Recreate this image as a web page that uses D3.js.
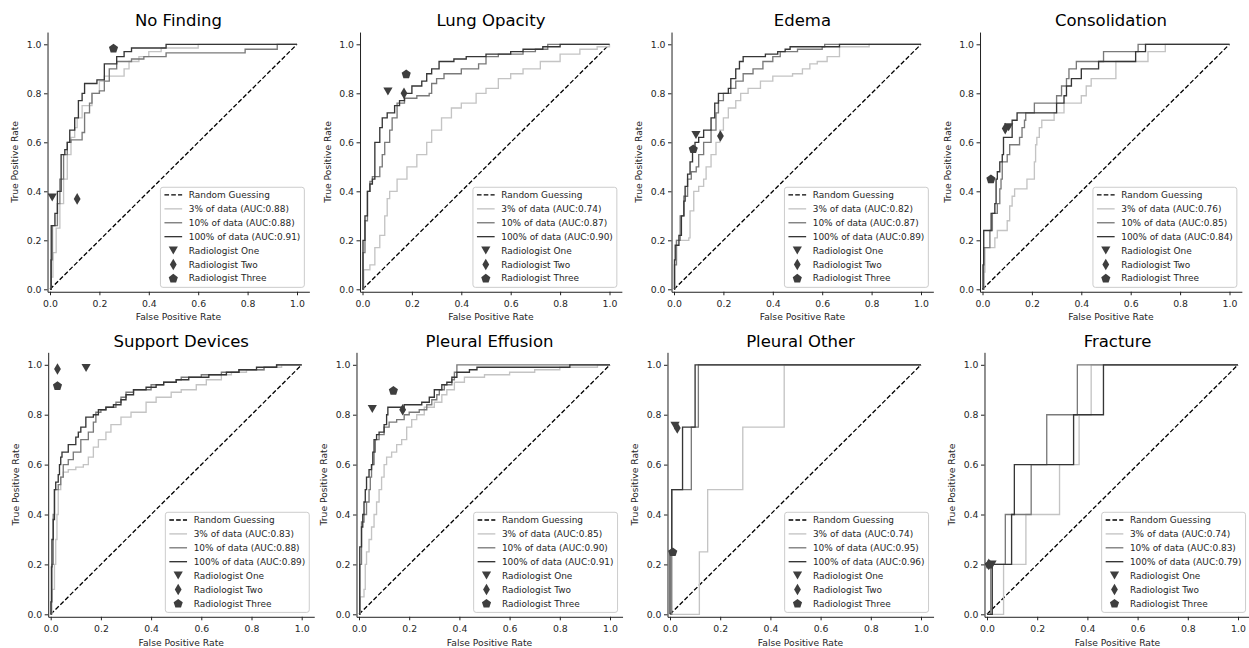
<!DOCTYPE html>
<html><head><meta charset="utf-8">
<script src="https://cdn.jsdelivr.net/npm/d3@7"></script>
<style>
html,body{margin:0;padding:0;background:#fff;}
svg{display:block;font-family:"DejaVu Sans",sans-serif;}
</style></head>
<body>
<svg id="chart" width="1249" height="648"></svg>
<script>
// ---------------- DATA ----------------
const categories = ["No Finding","Lung Opacity","Edema","Consolidation","Support Devices","Pleural Effusion","Pleural Other","Fracture"];
const auc3   = [0.88,0.74,0.82,0.76,0.83,0.85,0.74,0.74];
const auc10  = [0.88,0.87,0.87,0.85,0.88,0.90,0.95,0.83];
const auc100 = [0.91,0.90,0.89,0.84,0.89,0.91,0.96,0.79];
const tickValues = [0,0.2,0.4,0.6,0.8,1.0];
const legendLabels = ["Random Guessing","3% of data","10% of data","100% of data","Radiologist One","Radiologist Two","Radiologist Three"];

// radiologist operating points [FPR, TPR] per category
const radiologistOne   = [[0.009,0.375],[0.103,0.807],[0.089,0.63],[0.106,0.661],[0.141,0.987],[0.053,0.823],[0.02,0.756],[0.02,0.2]];
const radiologistTwo   = [[0.11,0.369],[0.168,0.8],[0.188,0.626],[0.092,0.656],[0.027,0.983],[0.174,0.82],[0.029,0.747],[0.007,0.2]];
const radiologistThree = [[0.257,0.984],[0.177,0.879],[0.078,0.573],[0.034,0.45],[0.027,0.916],[0.137,0.897],[0.011,0.25],[0.01,0.2]];

// ROC step points [FPR, TPR]
const noFinding3   = [[0,0],[0.005,0.05],[0.012,0.15],[0.025,0.25],[0.04,0.35],[0.055,0.45],[0.07,0.55],[0.085,0.62],[0.1,0.66],[0.11,0.7],[0.13,0.75],[0.17,0.8],[0.2,0.85],[0.22,0.87],[0.3,0.9],[0.32,0.93],[0.36,0.95],[0.4,0.97],[0.45,0.985],[0.6,1.0],[1,1]];
const noFinding10  = [[0,0],[0.003,0.12],[0.01,0.26],[0.03,0.35],[0.04,0.45],[0.055,0.55],[0.07,0.6],[0.085,0.61],[0.13,0.64],[0.14,0.72],[0.16,0.76],[0.17,0.8],[0.2,0.81],[0.22,0.85],[0.24,0.9],[0.27,0.93],[0.33,0.94],[0.38,0.95],[0.47,0.965],[0.79,0.98],[0.92,1.0],[1,1]];
const noFinding100 = [[0,0],[0.005,0.26],[0.02,0.31],[0.03,0.4],[0.045,0.55],[0.06,0.57],[0.07,0.6],[0.08,0.65],[0.1,0.7],[0.115,0.77],[0.13,0.8],[0.14,0.84],[0.19,0.855],[0.22,0.92],[0.27,0.95],[0.3,0.97],[0.33,0.985],[0.47,1.0],[1,1]];

const lungOpacity3   = [[0,0],[0.005,0.08],[0.03,0.1],[0.05,0.17],[0.07,0.22],[0.09,0.3],[0.1,0.37],[0.11,0.4],[0.14,0.45],[0.18,0.5],[0.22,0.55],[0.26,0.6],[0.28,0.65],[0.32,0.7],[0.36,0.74],[0.4,0.76],[0.46,0.8],[0.5,0.82],[0.55,0.86],[0.6,0.88],[0.65,0.9],[0.72,0.93],[0.8,0.96],[0.88,0.98],[0.95,0.99],[1,1]];
const lungOpacity10  = [[0,0],[0.002,0.15],[0.01,0.28],[0.02,0.4],[0.03,0.44],[0.04,0.46],[0.07,0.5],[0.08,0.55],[0.09,0.6],[0.11,0.65],[0.12,0.7],[0.14,0.76],[0.17,0.78],[0.22,0.79],[0.27,0.8],[0.28,0.84],[0.3,0.86],[0.33,0.88],[0.4,0.9],[0.47,0.92],[0.5,0.95],[0.55,0.96],[0.65,0.97],[0.7,0.98],[0.75,1.0],[1,1]];
const lungOpacity100 = [[0,0],[0.002,0.2],[0.01,0.3],[0.02,0.4],[0.03,0.43],[0.04,0.45],[0.05,0.6],[0.07,0.66],[0.08,0.7],[0.1,0.72],[0.13,0.75],[0.15,0.77],[0.17,0.8],[0.2,0.83],[0.24,0.85],[0.26,0.88],[0.28,0.9],[0.31,0.93],[0.37,0.94],[0.42,0.95],[0.5,0.96],[0.6,0.97],[0.65,0.98],[0.73,0.99],[0.8,1.0],[1,1]];

const edema3   = [[0,0],[0.003,0.12],[0.01,0.2],[0.06,0.21],[0.065,0.32],[0.08,0.4],[0.1,0.42],[0.12,0.45],[0.13,0.5],[0.15,0.55],[0.17,0.6],[0.185,0.65],[0.2,0.7],[0.22,0.74],[0.25,0.77],[0.27,0.8],[0.3,0.82],[0.35,0.85],[0.4,0.87],[0.48,0.88],[0.52,0.9],[0.55,0.92],[0.58,0.93],[0.62,0.95],[0.67,0.96],[0.67,0.99],[0.79,1.0],[1,1]];
const edema10  = [[0,0],[0.002,0.1],[0.01,0.2],[0.025,0.3],[0.04,0.38],[0.055,0.45],[0.07,0.48],[0.09,0.5],[0.1,0.55],[0.12,0.6],[0.15,0.65],[0.17,0.72],[0.18,0.77],[0.2,0.8],[0.23,0.82],[0.25,0.85],[0.28,0.88],[0.32,0.9],[0.36,0.93],[0.4,0.95],[0.43,0.97],[0.5,0.98],[0.6,0.99],[0.61,1.0],[1,1]];
const edema100 = [[0,0],[0.002,0.12],[0.005,0.18],[0.02,0.22],[0.03,0.3],[0.04,0.36],[0.045,0.42],[0.055,0.47],[0.065,0.52],[0.075,0.57],[0.085,0.6],[0.1,0.62],[0.12,0.65],[0.15,0.7],[0.165,0.76],[0.18,0.8],[0.22,0.82],[0.23,0.86],[0.25,0.9],[0.265,0.93],[0.28,0.95],[0.37,0.96],[0.42,0.97],[0.45,0.98],[0.47,0.99],[0.67,1.0],[1,1]];

const consolidation3   = [[0,0],[0.005,0.07],[0.01,0.17],[0.05,0.21],[0.06,0.24],[0.1,0.28],[0.11,0.34],[0.12,0.38],[0.13,0.41],[0.18,0.45],[0.21,0.52],[0.215,0.59],[0.22,0.62],[0.23,0.66],[0.24,0.69],[0.29,0.72],[0.33,0.76],[0.4,0.79],[0.42,0.83],[0.44,0.86],[0.54,0.93],[0.67,0.97],[0.74,1.0],[1,1]];
const consolidation10  = [[0,0],[0.005,0.17],[0.03,0.24],[0.04,0.31],[0.06,0.35],[0.07,0.41],[0.075,0.45],[0.08,0.52],[0.1,0.55],[0.11,0.59],[0.15,0.62],[0.16,0.66],[0.17,0.69],[0.175,0.72],[0.21,0.76],[0.3,0.79],[0.32,0.83],[0.34,0.86],[0.35,0.9],[0.38,0.93],[0.49,0.97],[0.63,1.0],[1,1]];
const consolidation100 = [[0,0],[0.002,0.1],[0.005,0.24],[0.035,0.31],[0.05,0.35],[0.055,0.45],[0.06,0.48],[0.07,0.52],[0.08,0.55],[0.085,0.62],[0.12,0.69],[0.14,0.72],[0.3,0.76],[0.33,0.79],[0.34,0.83],[0.36,0.86],[0.4,0.9],[0.47,0.93],[0.62,0.97],[0.66,1.0],[1,1]];

const supportDevices3   = [[0,0],[0.005,0.1],[0.015,0.2],[0.02,0.3],[0.025,0.4],[0.03,0.5],[0.04,0.55],[0.05,0.57],[0.07,0.58],[0.1,0.59],[0.13,0.6],[0.15,0.63],[0.17,0.67],[0.19,0.7],[0.22,0.73],[0.24,0.76],[0.28,0.79],[0.32,0.81],[0.38,0.85],[0.42,0.87],[0.48,0.89],[0.52,0.9],[0.58,0.92],[0.62,0.94],[0.68,0.96],[0.72,0.97],[0.78,0.98],[0.85,0.99],[0.92,1.0],[1,1]];
const supportDevices10  = [[0,0],[0.002,0.05],[0.005,0.2],[0.01,0.4],[0.015,0.5],[0.03,0.52],[0.04,0.55],[0.05,0.6],[0.07,0.62],[0.09,0.65],[0.12,0.7],[0.15,0.73],[0.17,0.77],[0.18,0.81],[0.2,0.82],[0.22,0.83],[0.26,0.85],[0.28,0.87],[0.3,0.89],[0.33,0.9],[0.4,0.92],[0.45,0.93],[0.5,0.94],[0.52,0.95],[0.6,0.96],[0.68,0.97],[0.75,0.98],[0.85,0.99],[0.9,1.0],[1,1]];
const supportDevices100 = [[0,0],[0.001,0.05],[0.003,0.19],[0.005,0.3],[0.01,0.38],[0.015,0.5],[0.02,0.53],[0.03,0.56],[0.035,0.6],[0.04,0.63],[0.045,0.65],[0.07,0.68],[0.1,0.71],[0.11,0.73],[0.12,0.75],[0.14,0.79],[0.17,0.8],[0.19,0.82],[0.22,0.83],[0.25,0.84],[0.28,0.86],[0.3,0.88],[0.33,0.9],[0.38,0.91],[0.42,0.92],[0.45,0.93],[0.5,0.94],[0.55,0.95],[0.63,0.96],[0.7,0.97],[0.75,0.98],[0.82,0.99],[0.9,1.0],[1,1]];

const pleuralEffusion3   = [[0,0],[0.005,0.07],[0.02,0.1],[0.025,0.2],[0.03,0.25],[0.04,0.3],[0.05,0.35],[0.06,0.4],[0.07,0.45],[0.08,0.5],[0.09,0.55],[0.1,0.6],[0.11,0.63],[0.13,0.65],[0.15,0.68],[0.17,0.7],[0.19,0.75],[0.21,0.78],[0.23,0.8],[0.26,0.83],[0.3,0.85],[0.33,0.88],[0.35,0.9],[0.38,0.93],[0.42,0.95],[0.5,0.96],[0.6,0.97],[0.7,0.98],[0.8,0.99],[0.95,1.0],[1,1]];
const pleuralEffusion10  = [[0,0],[0.003,0.2],[0.01,0.37],[0.02,0.4],[0.03,0.45],[0.04,0.5],[0.045,0.55],[0.05,0.6],[0.06,0.65],[0.065,0.7],[0.08,0.72],[0.1,0.75],[0.12,0.77],[0.15,0.78],[0.18,0.8],[0.2,0.81],[0.24,0.82],[0.27,0.84],[0.29,0.86],[0.31,0.88],[0.32,0.9],[0.34,0.92],[0.37,0.94],[0.38,0.97],[0.39,1.0],[1,1]];
const pleuralEffusion100 = [[0,0],[0.003,0.27],[0.01,0.35],[0.015,0.4],[0.02,0.45],[0.025,0.5],[0.03,0.55],[0.04,0.58],[0.05,0.6],[0.055,0.65],[0.06,0.7],[0.07,0.72],[0.08,0.73],[0.1,0.76],[0.11,0.8],[0.115,0.83],[0.18,0.84],[0.25,0.85],[0.28,0.87],[0.3,0.9],[0.33,0.92],[0.35,0.93],[0.37,0.95],[0.39,0.97],[0.44,0.98],[0.47,0.99],[0.84,1.0],[1,1]];

const pleuralOther3   = [[0,0],[0.117,0.25],[0.15,0.5],[0.29,0.75],[0.455,1.0],[1,1]];
const pleuralOther10  = [[0,0],[0.007,0.5],[0.085,0.75],[0.113,1.0],[1,1]];
const pleuralOther100 = [[0,0],[0,0.25],[0.007,0.5],[0.05,0.75],[0.1,1.0],[1,1]];

const fracture3   = [[0,0],[0.066,0.2],[0.155,0.4],[0.289,0.6],[0.367,0.8],[0.415,1.0],[1,1]];
const fracture10  = [[0,0],[0.015,0.2],[0.073,0.4],[0.176,0.6],[0.238,0.8],[0.36,1.0],[1,1]];
const fracture100 = [[0,0],[0.021,0.2],[0.098,0.4],[0.109,0.6],[0.345,0.8],[0.464,1.0],[1,1]];

const roc3   = [noFinding3, lungOpacity3, edema3, consolidation3, supportDevices3, pleuralEffusion3, pleuralOther3, fracture3];
const roc10  = [noFinding10, lungOpacity10, edema10, consolidation10, supportDevices10, pleuralEffusion10, pleuralOther10, fracture10];
const roc100 = [noFinding100, lungOpacity100, edema100, consolidation100, supportDevices100, pleuralEffusion100, pleuralOther100, fracture100];

// ---------------- LAYOUT / STYLE ----------------
const rows = [
  {x0:[50,362.5,674,982.5], ux:247, y0:289.3, uy:245, titleY:25.5, tickY:306.7, labelY:320},
  {x0:[50.7,359,670,987],   ux:251, y0:614.3, uy:249.5, titleY:347, tickY:632.3, labelY:645.5}
];
const C3 = "#c4c4c4", C10 = "#7a7a7a", C100 = "#363636", CM = "#3e3e3e";
const TXT = "#262626";
const domain = [-0.01, 1.05];

const svg = d3.select("#chart");

function markerPath(kind){
  if(kind === "tri"){ return "M-4.6,-4L4.6,-4L0,4Z"; }
  if(kind === "dia"){ return "M0,-5.8L3.4,0L0,5.8L-3.4,0Z"; }
  const r = 4.8, pts = [];
  for(let k=0;k<5;k++){ const a = -Math.PI/2 + k*2*Math.PI/5; pts.push([r*Math.cos(a), r*Math.sin(a)+0.3]); }
  return "M"+pts.map(p=>p.join(",")).join("L")+"Z";
}

categories.forEach((cat, i) => {
  const row = rows[Math.floor(i/4)];
  const col = i % 4;
  const x0 = row.x0[col];
  const x = d3.scaleLinear().domain(domain).range([x0 + domain[0]*row.ux, x0 + domain[1]*row.ux]);
  const y = d3.scaleLinear().domain(domain).range([row.y0 - domain[0]*row.uy, row.y0 - domain[1]*row.uy]);
  const [L, R] = x.range();
  const [B, T] = y.range();

  const g = svg.append("g");
  const clipId = "clip"+i;
  g.append("clipPath").attr("id", clipId).append("rect")
    .attr("x", L).attr("y", T).attr("width", R-L).attr("height", B-T);

  const plot = g.append("g").attr("clip-path", `url(#${clipId})`);

  // random guessing
  plot.append("line")
    .attr("x1", x(0)).attr("y1", y(0)).attr("x2", x(1)).attr("y2", y(1))
    .attr("stroke", "#000").attr("stroke-width", 1.3).attr("stroke-dasharray", "4.6,2.2");

  const line = d3.line().x(d=>x(d[0])).y(d=>y(d[1])).curve(d3.curveStepAfter);
  [[roc3[i], C3],[roc10[i], C10],[roc100[i], C100]].forEach(([data, c]) => {
    plot.append("path").attr("d", line(data)).attr("fill","none")
      .attr("stroke", c).attr("stroke-width", 1.35).attr("stroke-linejoin","miter");
  });

  [[radiologistOne,"tri"],[radiologistTwo,"dia"],[radiologistThree,"pent"]].forEach(([pts, kind]) => {
    const p = pts[i];
    plot.append("path").attr("d", markerPath(kind))
      .attr("transform", `translate(${x(p[0])},${y(p[1])})`)
      .attr("fill", CM);
  });

  // axes
  const xAxis = d3.axisBottom(x).tickValues(tickValues).tickFormat(d3.format(".1f")).tickSize(3.5).tickSizeOuter(0).tickPadding(2);
  const yAxis = d3.axisLeft(y).tickValues(tickValues).tickFormat(d3.format(".1f")).tickSize(3.5).tickSizeOuter(0).tickPadding(2.5);
  const gx = g.append("g").attr("transform", `translate(0,${B})`).call(xAxis);
  const gy = g.append("g").attr("transform", `translate(${L},0)`).call(yAxis);
  [gx, gy].forEach(a => {
    a.select(".domain").attr("stroke", "#222").attr("stroke-width", 1);
    a.selectAll(".tick line").attr("stroke", "#222").attr("stroke-width", 1);
    a.selectAll(".tick text").attr("fill", TXT).style("font-size","9.3px").style("font-family","DejaVu Sans");
  });
  gx.selectAll(".tick text").attr("dy", null).attr("y", row.tickY - B);
  gy.selectAll(".tick text").attr("dy", "0.33em");

  // titles & labels
  g.append("text").attr("x", (L+R)/2).attr("y", row.titleY).attr("text-anchor","middle")
    .style("font-size","16.5px").attr("fill","#000").text(cat);
  g.append("text").attr("x", (L+R)/2).attr("y", row.labelY).attr("text-anchor","middle")
    .style("font-size","9.2px").attr("fill", TXT).text("False Positive Rate");
  g.append("text").attr("transform", `translate(${L-29.5},${(T+B)/2}) rotate(-90)`).attr("text-anchor","middle")
    .style("font-size","9.2px").attr("fill", TXT).text("True Positive Rate");

  // legend
  const labels = [
    legendLabels[0],
    `${legendLabels[1]} (AUC:${auc3[i].toFixed(2)})`,
    `${legendLabels[2]} (AUC:${auc10[i].toFixed(2)})`,
    `${legendLabels[3]} (AUC:${auc100[i].toFixed(2)})`,
    legendLabels[4], legendLabels[5], legendLabels[6]
  ];
  const lg = g.append("g");
  const box = lg.append("rect");
  const rowH = 13.9, padTop = 7.7, padBot = 9, textX = 28.3;
  const boxH = padTop + rowH*6 + padBot;
  const texts = labels.map((t, k) => lg.append("text").attr("x", textX).attr("y", padTop + k*rowH).attr("dy","0.35em")
      .style("font-size","8.95px").attr("fill", TXT).text(t));
  const maxW = d3.max(texts, t => t.node().getComputedTextLength());
  const boxW = textX + maxW + 4;
  box.attr("x",0).attr("y",0).attr("width", boxW).attr("height", boxH).attr("rx", 2.5)
    .attr("fill","#fff").attr("fill-opacity",0.8).attr("stroke","#cccccc").attr("stroke-width",1);
  lg.append("line").attr("x1",4).attr("x2",21.7).attr("y1",padTop).attr("y2",padTop)
    .attr("stroke","#000").attr("stroke-width",1.3).attr("stroke-dasharray","4.6,2.2");
  [C3, C10, C100].forEach((c,k) => {
    lg.append("line").attr("x1",4).attr("x2",21.7).attr("y1",padTop+(k+1)*rowH).attr("y2",padTop+(k+1)*rowH)
      .attr("stroke",c).attr("stroke-width",1.35);
  });
  ["tri","dia","pent"].forEach((kind,k) => {
    lg.append("path").attr("d", markerPath(kind))
      .attr("transform", `translate(12.85,${padTop+(k+4)*rowH})`).attr("fill", CM);
  });
  lg.attr("transform", `translate(${R - 5 - boxW},${B - 4.4 - boxH})`);
});
</script>
</body></html>
